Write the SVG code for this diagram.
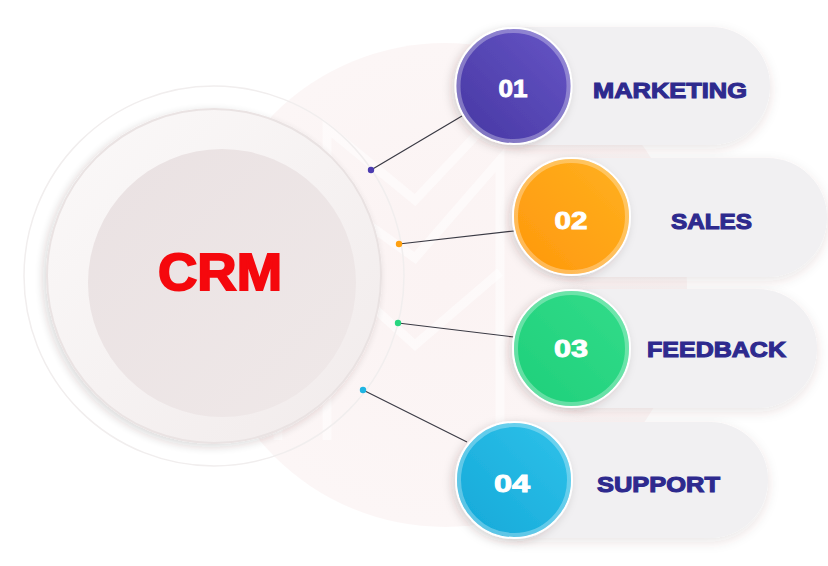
<svg xmlns="http://www.w3.org/2000/svg" width="828" height="566" viewBox="0 0 828 566">
<defs>
<filter id="sh" x="-30%" y="-30%" width="160%" height="170%"><feDropShadow dx="0" dy="4" stdDeviation="6" flood-color="#5a3a3a" flood-opacity="0.12"/></filter>
<filter id="shc" x="-30%" y="-30%" width="160%" height="170%"><feDropShadow dx="-3" dy="3" stdDeviation="5" flood-color="#3a2020" flood-opacity="0.18"/></filter>
<radialGradient id="bgc" cx="0.5" cy="0.5" r="0.5"><stop offset="0" stop-color="#fbf3f3"/><stop offset="1" stop-color="#fcf6f6"/></radialGradient>
<linearGradient id="ringg" x1="0" y1="0" x2="1" y2="1"><stop offset="0" stop-color="#fbf9f9"/><stop offset="1" stop-color="#f1ebeb"/></linearGradient>
<linearGradient id="innerg" x1="0" y1="0" x2="1" y2="1"><stop offset="0" stop-color="#e8dfe0"/><stop offset="1" stop-color="#efe8e8"/></linearGradient>
<linearGradient id="g1" x1="1" y1="0" x2="0" y2="1"><stop offset="0" stop-color="#6656c6"/><stop offset="1" stop-color="#4636a2"/></linearGradient>
<linearGradient id="g2" x1="1" y1="0" x2="0" y2="1"><stop offset="0" stop-color="#ffb11f"/><stop offset="1" stop-color="#ff970c"/></linearGradient>
<linearGradient id="g3" x1="1" y1="0" x2="0" y2="1"><stop offset="0" stop-color="#33dc8a"/><stop offset="1" stop-color="#1ecf7a"/></linearGradient>
<linearGradient id="g4" x1="1" y1="0" x2="0" y2="1"><stop offset="0" stop-color="#2fc2ea"/><stop offset="1" stop-color="#14a8d8"/></linearGradient>
</defs>
<style>
.pill{fill:#f1f0f2;filter:url(#sh)}
.num{font-family:"Liberation Sans",sans-serif;font-weight:700;font-size:24px;fill:#ffffff;stroke:#ffffff;stroke-width:0.9;text-anchor:middle}
.lbl{font-family:"Liberation Sans",sans-serif;font-weight:700;font-size:22px;fill:#2e2a8e;stroke:#2e2a8e;stroke-width:1.1}
.conn{stroke:#3a3a44;stroke-width:1.2;fill:none}
.rim{fill:none;stroke:#ffffff;stroke-opacity:0.3;stroke-width:4}
</style>
<rect width="828" height="566" fill="#ffffff"/>
<circle cx="445" cy="285" r="242" fill="url(#bgc)"/>
<g fill="none" stroke="#ffffff" stroke-opacity="0.5" stroke-width="9" stroke-linejoin="miter">
<polyline points="278,440 278,160 415,258 500,160 500,440"/>
<polyline points="327,440 327,128 415,200 500,110"/>
<polyline points="345,282 415,345 500,272"/>
</g>
<circle cx="214" cy="276" r="190" fill="none" stroke="#f1eeee" stroke-width="1.5"/>
<g id="crm">
<circle cx="214" cy="276" r="167" fill="url(#ringg)" stroke="#e9e2e2" stroke-width="2" filter="url(#shc)" opacity="0.95"/>
<circle cx="222" cy="283" r="134" fill="url(#innerg)" opacity="0.9"/>
<text x="220" y="290" font-family="'Liberation Sans',sans-serif" font-weight="700" font-size="52" fill="#f5080d" stroke="#f5080d" stroke-width="2" text-anchor="middle" textLength="124" lengthAdjust="spacingAndGlyphs">CRM</text>
</g>
<g id="connectors">
<line class="conn" x1="371" y1="170" x2="462" y2="116"/>
<line class="conn" x1="399" y1="244" x2="514" y2="231"/>
<line class="conn" x1="398" y1="323" x2="514" y2="337"/>
<line class="conn" x1="363" y1="390" x2="467" y2="442"/>
<circle cx="371" cy="170" r="3.2" fill="#4b3bb0"/>
<circle cx="399" cy="244" r="3.2" fill="#ffa010"/>
<circle cx="398" cy="323" r="3.2" fill="#28d680"/>
<circle cx="363" cy="390" r="3.2" fill="#1fb4e2"/>
</g>
<g id="n1">
<rect class="pill" x="470" y="27" width="300" height="118" rx="59"/>
<circle cx="513.5" cy="86" r="58" fill="url(#g1)" stroke="#ffffff" stroke-width="2" filter="url(#shc)"/>
<circle class="rim" cx="513.5" cy="86" r="55"/>
<text class="num" x="513" y="97" textLength="29" lengthAdjust="spacingAndGlyphs">01</text>
<text class="lbl" x="593" y="98" textLength="154" lengthAdjust="spacingAndGlyphs">MARKETING</text>
</g>
<g id="n2">
<rect class="pill" x="530" y="158" width="297" height="119" rx="59.5"/>
<circle cx="571.5" cy="216.5" r="58.5" fill="url(#g2)" stroke="#ffffff" stroke-width="2" filter="url(#shc)"/>
<circle class="rim" cx="571.5" cy="216.5" r="55.5"/>
<text class="num" x="571" y="229" textLength="33" lengthAdjust="spacingAndGlyphs">02</text>
<text class="lbl" x="671" y="229" textLength="81" lengthAdjust="spacingAndGlyphs">SALES</text>
</g>
<g id="n3">
<rect class="pill" x="530" y="289" width="287" height="119" rx="59.5"/>
<circle cx="571.5" cy="348.5" r="58.5" fill="url(#g3)" stroke="#ffffff" stroke-width="2" filter="url(#shc)"/>
<circle class="rim" cx="571.5" cy="348.5" r="55.5"/>
<text class="num" x="571" y="357" textLength="34" lengthAdjust="spacingAndGlyphs">03</text>
<text class="lbl" x="647" y="357" textLength="139" lengthAdjust="spacingAndGlyphs">FEEDBACK</text>
</g>
<g id="n4">
<rect class="pill" x="470" y="422" width="298" height="116" rx="58"/>
<circle cx="514" cy="480" r="58" fill="url(#g4)" stroke="#ffffff" stroke-width="2" filter="url(#shc)"/>
<circle class="rim" cx="514" cy="480" r="55"/>
<text class="num" x="512" y="492" textLength="36" lengthAdjust="spacingAndGlyphs">04</text>
<text class="lbl" x="597" y="492" textLength="123" lengthAdjust="spacingAndGlyphs">SUPPORT</text>
</g>
</svg>
